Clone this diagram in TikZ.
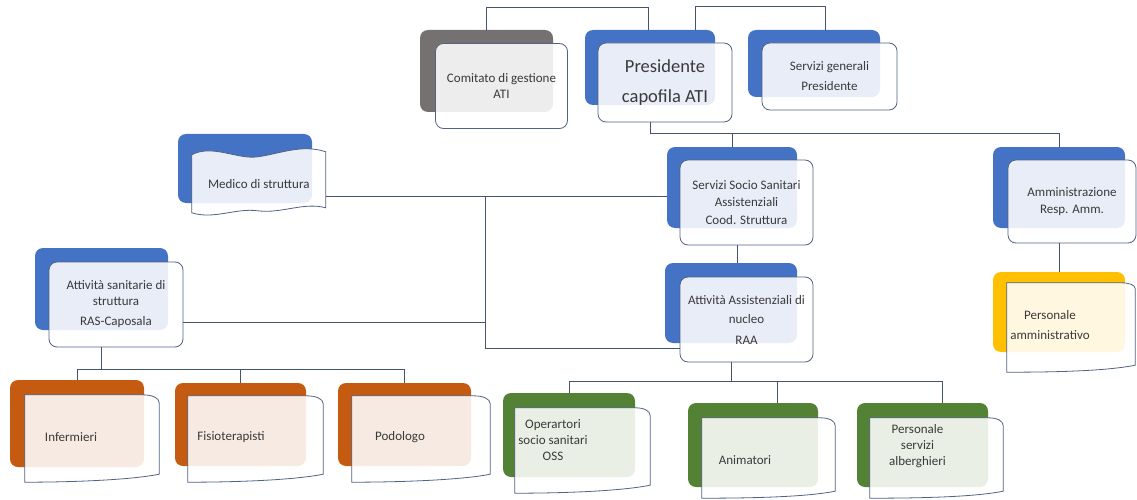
\documentclass[tikz,border=0pt]{standalone}
\usepackage{fontspec}
\setmainfont{Carlito}
\usepackage{xcolor}
\usepackage{tikz}
\usetikzlibrary{calc}
\definecolor{cblue}{RGB}{68,114,196}
\definecolor{cgrey}{RGB}{118,113,113}
\definecolor{corange}{RGB}{197,90,17}
\definecolor{cgreen}{RGB}{84,130,53}
\definecolor{cyellow}{RGB}{255,192,0}
\definecolor{edgeclr}{RGB}{82,98,130}
\definecolor{lineclr}{RGB}{68,84,106}
\definecolor{txtclr}{RGB}{58,58,58}
\tikzset{
  backbox/.style = {rounded corners=8pt, inner sep=0pt},% fondo colorato
  frontbox/.style = {draw=edgeclr, line width=0.8pt, rounded corners=8pt,
    fill=white, fill opacity=0.88, text opacity=1, align=center,
    text=txtclr, font=\fontsize{13}{16}\selectfont},% riquadro davanti
  curvebox/.style = {draw=edgeclr, line width=0.8pt, fill=white,
    fill opacity=0.88},% riquadro curvo
  txt/.style = {align=center, text=txtclr, font=\fontsize{13}{16}\selectfont},
  conn/.style = {draw=lineclr, line width=0.7pt}
}
\begin{document}
\begin{tikzpicture}[x=1pt, y=-1pt]
\useasboundingbox (0,0) rectangle (1137,500);

% fondi colorati
\node[backbox, fill=cgrey, minimum width=133, minimum height=82] (com-b) at (486.5,71) {};
\node[backbox, fill=cblue, minimum width=130, minimum height=75] (pres-b) at (650,67.5) {};
\node[backbox, fill=cblue, minimum width=132, minimum height=67] (serv-b) at (814,63.5) {};
\node[backbox, fill=cblue, minimum width=134, minimum height=69] (med-b) at (245,168.5) {};
\node[backbox, fill=cblue, minimum width=130, minimum height=81] (sss-b) at (732,187.5) {};
\node[backbox, fill=cblue, minimum width=132, minimum height=81] (amm-b) at (1059,187.5) {};
\node[backbox, fill=cblue, minimum width=133, minimum height=82] (ras-b) at (101.5,289) {};
\node[backbox, fill=cblue, minimum width=132, minimum height=80] (raa-b) at (731,303) {};
\node[backbox, fill=cyellow, minimum width=132, minimum height=80] (pam-b) at (1059,312) {};
\node[backbox, fill=corange, minimum width=134, minimum height=87] (inf-b) at (77,423.5) {};
\node[backbox, fill=corange, minimum width=131, minimum height=83] (fis-b) at (240.5,424.5) {};
\node[backbox, fill=corange, minimum width=133, minimum height=83] (pod-b) at (404.5,424.5) {};
\node[backbox, fill=cgreen, minimum width=132, minimum height=84] (oss-b) at (569,435) {};
\node[backbox, fill=cgreen, minimum width=130, minimum height=84] (ani-b) at (753,445) {};
\node[backbox, fill=cgreen, minimum width=131, minimum height=84] (alb-b) at (922.5,445) {};

% riquadri davanti
\node[frontbox, minimum width=132, minimum height=85] (com) at ($(com-b)+(15,15)$) {Comitato di gestione\\ATI};
\node[frontbox, minimum width=134, minimum height=79, font=\fontsize{18.5}{30}\selectfont] (pres) at ($(pres-b)+(15,15)$) {Presidente\\capofila ATI};
\node[frontbox, minimum width=135, minimum height=67] (serv) at ($(serv-b)+(15.5,13)$) {Servizi generali\\[4pt]Presidente};
\node[frontbox, minimum width=133, minimum height=85] (sss) at ($(sss-b)+(14.5,15)$) {Servizi Socio Sanitari\\[1pt]Assistenziali\\[2pt]Cood. Struttura};
\node[frontbox, minimum width=128, minimum height=83] (amm) at ($(amm-b)+(13,14)$) {Amministrazione\\[1pt]Resp. Amm.};
\node[frontbox, minimum width=134, minimum height=85] (ras) at ($(ras-b)+(14.5,15.5)$) {Attività sanitarie di\\struttura\\[4pt]RAS-Caposala};
\node[frontbox, minimum width=133, minimum height=85] (raa) at ($(raa-b)+(15.5,16.5)$) {Attività Assistenziali di\\[3pt]nucleo\\[5pt]RAA};

% medico, bordo ondulato
\draw[curvebox] ($(med-b.north west)+(14,21)$) .. controls ($(med-b.north west)+(34,10)$) and ($(med-b.north west)+(60,26)$) .. ($(med-b.north west)+(80,23)$)
  .. controls ($(med-b.north west)+(102,20)$) and ($(med-b.north west)+(124,10)$) .. ($(med-b.north west)+(148,18)$) -- ($(med-b.north west)+(148,74)$)
  .. controls ($(med-b.north west)+(126,68)$) and ($(med-b.north west)+(104,80)$) .. ($(med-b.north west)+(80,77)$)
  .. controls ($(med-b.north west)+(58,74)$) and ($(med-b.north west)+(36,86)$) .. ($(med-b.north west)+(14,79)$) -- cycle;
\node[txt, minimum width=134, minimum height=56, inner sep=0pt] (med) at ($(med-b.north west)+(81,50)$) {Medico di struttura};

% riquadri curvi
\draw[curvebox] ($(pam-b.north west)+(14,11)$) -- ($(pam-b.north east)+(-4,11)$) .. controls ($(pam-b.north east)+(4,11)$) and ($(pam-b.north east)+(10,13)$) .. ($(pam-b.north east)+(10,17)$) --
  ($(pam-b.south east)+(10,13)$) .. controls ($(pam-b.south east)+(-20,19)$) and ($(pam-b.south west)+(60,20)$) .. ($(pam-b.south west)+(14,20)$) -- cycle;
\draw[curvebox] ($(inf-b.north west)+(15,15)$) -- ($(inf-b.north east)+(-2,15)$) .. controls ($(inf-b.north east)+(8,15)$) and ($(inf-b.north east)+(15,18)$) .. ($(inf-b.north east)+(15,23)$) --
  ($(inf-b.south east)+(15,7)$) .. controls ($(inf-b.south east)+(-15,13)$) and ($(inf-b.south west)+(60,15)$) .. ($(inf-b.south west)+(15,15)$) -- cycle;
\draw[curvebox] ($(fis-b.north west)+(13,13)$) -- ($(fis-b.north east)+(0,13)$) .. controls ($(fis-b.north east)+(10,13)$) and ($(fis-b.north east)+(17,16)$) .. ($(fis-b.north east)+(17,21)$) --
  ($(fis-b.south east)+(17,8)$) .. controls ($(fis-b.south east)+(-13,14)$) and ($(fis-b.south west)+(60,16)$) .. ($(fis-b.south west)+(13,16)$) -- cycle;
\draw[curvebox] ($(pod-b.north west)+(14,13)$) -- ($(pod-b.north east)+(2,13)$) .. controls ($(pod-b.north east)+(12,13)$) and ($(pod-b.north east)+(19,16)$) .. ($(pod-b.north east)+(19,21)$) --
  ($(pod-b.south east)+(19,8)$) .. controls ($(pod-b.south east)+(-11,14)$) and ($(pod-b.south west)+(60,16)$) .. ($(pod-b.south west)+(14,16)$) -- cycle;
\draw[curvebox] ($(oss-b.north west)+(12,15)$) -- ($(oss-b.north east)+(0,15)$) .. controls ($(oss-b.north east)+(9,15)$) and ($(oss-b.north east)+(15,18)$) .. ($(oss-b.north east)+(15,23)$) --
  ($(oss-b.south east)+(15,8)$) .. controls ($(oss-b.south east)+(-15,14)$) and ($(oss-b.south west)+(60,16)$) .. ($(oss-b.south west)+(12,16)$) -- cycle;
\draw[curvebox] ($(ani-b.north west)+(14,15)$) -- ($(ani-b.north east)+(2,15)$) .. controls ($(ani-b.north east)+(11,15)$) and ($(ani-b.north east)+(17,18)$) .. ($(ani-b.north east)+(17,23)$) --
  ($(ani-b.south east)+(17,4)$) .. controls ($(ani-b.south east)+(-13,10)$) and ($(ani-b.south west)+(60,11)$) .. ($(ani-b.south west)+(14,11)$) -- cycle;
\draw[curvebox] ($(alb-b.north west)+(13,15)$) -- ($(alb-b.north east)+(0,15)$) .. controls ($(alb-b.north east)+(9,15)$) and ($(alb-b.north east)+(15,18)$) .. ($(alb-b.north east)+(15,23)$) --
  ($(alb-b.south east)+(15,4)$) .. controls ($(alb-b.south east)+(-15,10)$) and ($(alb-b.south west)+(60,11)$) .. ($(alb-b.south west)+(13,11)$) -- cycle;

\node[txt] (pam) at ($(pam-b)+(-9,13)$) {Personale\\[4pt]amministrativo};
\node[txt] (inf) at ($(inf-b)+(-6,13.5)$) {Infermieri};
\node[txt] (fis) at ($(fis-b)+(-9.5,12.5)$) {Fisioterapisti};
\node[txt] (pod) at ($(pod-b)+(-4.5,12.5)$) {Podologo};
\node[txt] (oss) at ($(oss-b)+(-16,5)$) {Operartori\\socio sanitari\\OSS};
\node[txt] (ani) at ($(ani-b)+(-8,15)$) {Animatori};
\node[txt] (alb) at ($(alb-b)+(-5,1)$) {Personale\\servizi\\alberghieri};

% collegamenti
\coordinate (jm) at (485,196);
\coordinate (jr) at (485,348);
\coordinate (jo) at (0,369);
\coordinate (jg) at (0,381);
\coordinate (ja) at ($(ani-b.north)+(24,0)$);
\coordinate (jb) at ($(alb-b.north)+(20,0)$);

\draw[conn] (com-b.north) -- ++(0,-22) -| ($(pres-b.north)+(-2,0)$);
\draw[conn] ($(pres-b.north)+(45,0)$) -- ++(0,-23) -| ($(serv-b.north)+(11,0)$);
\draw[conn] ($(pres.south)+(-15,0)$) -- ++(0,11) -| (amm-b.north);
\draw[conn] (sss-b.north) -- ++(0,-14);
\draw[conn] ($(raa-b.north)+(6,0)$) -- ++(0,-18);
\draw[conn] (amm.south -| pam-b.north) -- (pam-b.north);
\draw[conn] (med.east |- jm) -- (sss-b.west |- jm);
\draw[conn] (jm) -- (jr) -- (raa.west |- jr);
\draw[conn] (ras.east |- 0,322) -- (jm |- 0,322);
\draw[conn] (ras-b.south |- ras.south) -- (ras-b.south |- jo);
\draw[conn] (inf-b.north) -- (inf-b.north |- jo) -- (pod-b.north |- jo) -- (pod-b.north);
\draw[conn] (fis-b.north) -- (fis-b.north |- jo);
\draw[conn] (raa-b.south |- raa.south) -- (raa-b.south |- jg);
\draw[conn] (oss-b.north) -- (oss-b.north |- jg) -- (jb |- jg) -- (jb);
\draw[conn] (ja) -- (ja |- jg);
\end{tikzpicture}
\end{document}
